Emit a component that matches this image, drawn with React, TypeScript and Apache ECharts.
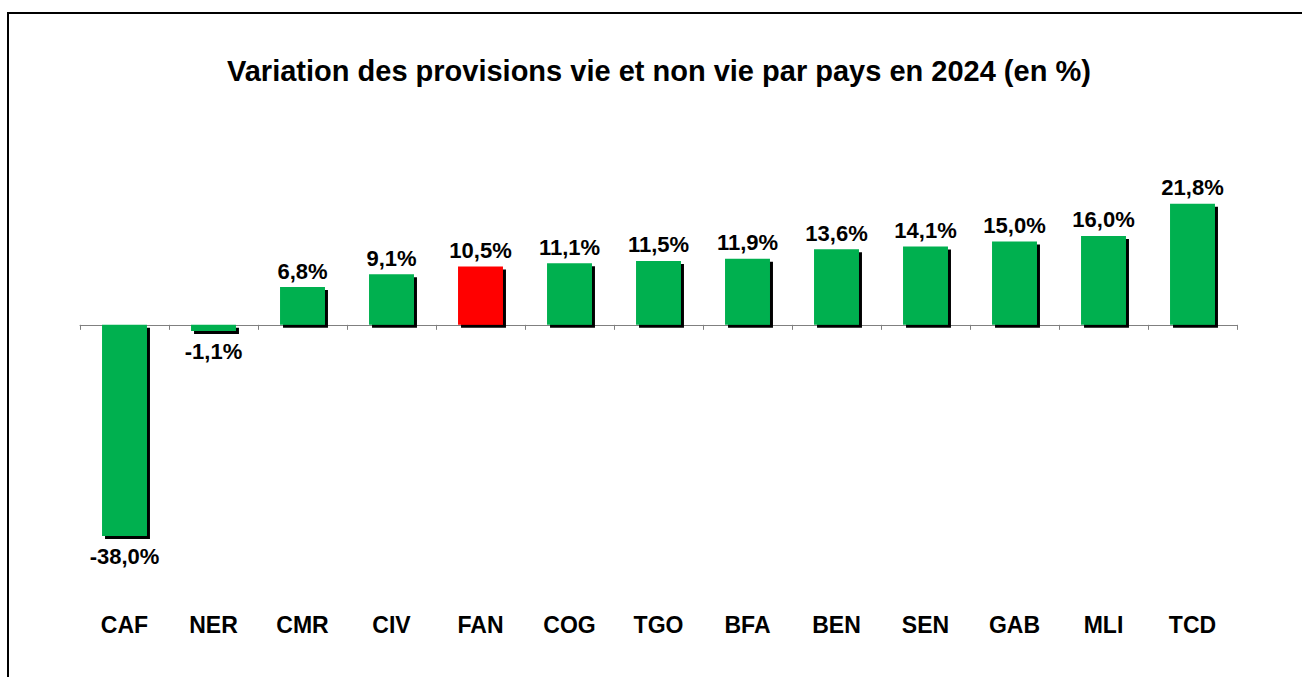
import React, { useEffect, useRef } from "react";
import * as echarts from "echarts";

const categories = ["CAF", "NER", "CMR", "CIV", "FAN", "COG", "TGO", "BFA", "BEN", "SEN", "GAB", "MLI", "TCD"];
const values = [-38.0, -1.1, 6.8, 9.1, 10.5, 11.1, 11.5, 11.9, 13.6, 14.1, 15.0, 16.0, 21.8];
const highlight = "FAN";
const titleText = "Variation des provisions vie et non vie par pays en 2024 (en %)";

const GREEN = "#00B050";
const RED = "#FF0000";
const FONT = "'Liberation Sans', Arial, sans-serif";

const fmt = (v: number) => v.toFixed(1).replace(".", ",") + "%";

export default function App() {
  const ref = useRef<HTMLDivElement>(null);
  useEffect(() => {
    if (!ref.current) return;
    const chart = echarts.init(ref.current, undefined, { renderer: "svg" });
    const data = values.map((v, i) => ({
      value: v,
      itemStyle: { color: categories[i] === highlight ? RED : GREEN },
      label: {
        position: v < 0 ? "bottom" : "top",
        distance: v < 0 ? 10 : 5,
      },
    }));
    chart.setOption({
      animation: false,
      backgroundColor: "#fff",
      title: {
        text: titleText,
        left: 222,
        top: 51,
        textStyle: { fontFamily: FONT, fontWeight: "bold", fontSize: 29, color: "#000" },
      },
      graphic: [
        {
          type: "rect",
          shape: { x: 8, y: 13, width: 1400, height: 800 },
          style: { fill: "none", stroke: "#000", lineWidth: 2 },
          silent: true,
        },
      ],
      grid: { left: 80, right: 65, top: 186, bottom: 130, containLabel: false },
      xAxis: [
        {
          type: "category",
          data: categories,
          axisLine: { onZero: true, lineStyle: { color: "#808080", width: 1 } },
          axisTick: { show: true, length: 5, lineStyle: { color: "#808080" } },
          axisLabel: { show: false },
        },
        {
          type: "category",
          data: categories,
          position: "bottom",
          axisLine: { show: false },
          axisTick: { show: false },
          axisLabel: {
            margin: 66,
            fontFamily: FONT,
            fontWeight: "bold",
            fontSize: 23,
            color: "#000",
          },
        },
      ],
      yAxis: {
        type: "value",
        min: -40,
        max: 25,
        show: false,
        splitLine: { show: false },
      },
      series: [
        {
          type: "bar",
          data,
          barWidth: "50.5%",
          itemStyle: {
            shadowColor: "#000",
            shadowOffsetX: 3,
            shadowOffsetY: 3,
            shadowBlur: 0,
          },
          label: {
            show: true,
            formatter: (p: any) => fmt(p.value),
            fontFamily: FONT,
            fontWeight: "bold",
            fontSize: 22,
            color: "#000",
          },
        },
      ],
    });
    return () => chart.dispose();
  }, []);
  return (
    <div
      ref={ref}
      style={{ position: "absolute", left: 0, top: 0, width: 1302, height: 677 }}
    />
  );
}
